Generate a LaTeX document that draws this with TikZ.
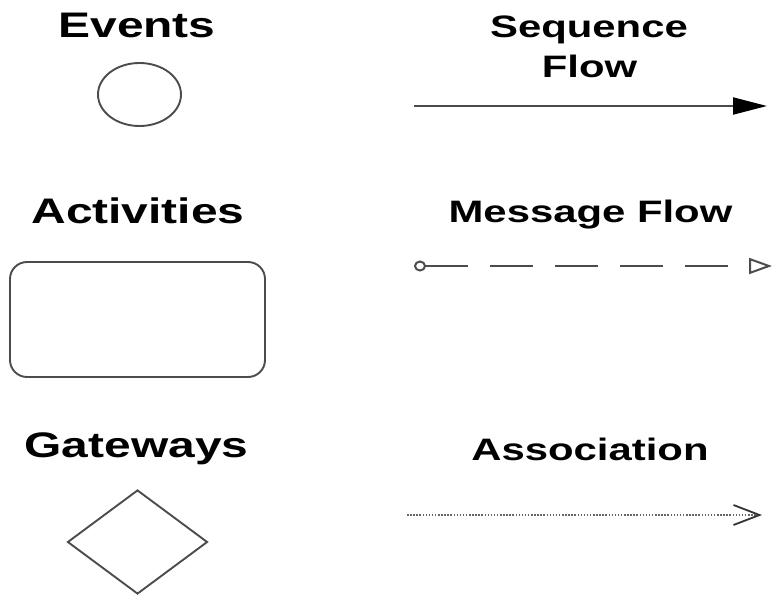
\documentclass[tikz,border=0pt]{standalone}
\usepackage{fontspec}
\setmainfont{Liberation Sans}
\usetikzlibrary{arrows.meta,shapes.geometric}
\begin{document}
\begin{tikzpicture}[x=1pt,y=-1pt,
  lbl/.style={font=\fontsize{35.5}{40}\selectfont\bfseries, anchor=base, inner sep=0, xscale=1.35},
  rlbl/.style={font=\fontsize{31}{40}\selectfont\bfseries, anchor=base, inner sep=0, xscale=1.35},
  shp/.style={draw=black!70, line width=1.9pt, inner sep=0},
  conn/.style={draw=black!70, line width=2pt}]
\useasboundingbox (0,0) rectangle (774,597);
% left column
\node[lbl] (tev) at (137,37) {Events};
\node[shp, ellipse, minimum width=83pt, minimum height=63pt] (ev) at (139.5,94.5) {};
\node[lbl] (tact) at (138,223) {Activities};
\node[shp, rectangle, rounded corners=17pt, minimum width=255pt, minimum height=115pt] (act) at (137.5,319.5) {};
\node[lbl] (tgw) at (136.5,457) {Gateways};
\node[shp, diamond, aspect=1.346, minimum width=140pt, minimum height=104pt] (gw) at (137.5,542) {};
% right column
\node[rlbl] (tsf) at (589,37) {Sequence};
\node[rlbl] (tsf2) at (589.5,77) {Flow};
\coordinate (sf1) at (414,106);
\coordinate (sf2) at (767,106);
\draw[conn, -{Triangle[length=34pt,width=17pt,fill=black,color=black]}] (sf1) -- (sf2);
\node[rlbl] (tmf) at (590.5,222) {Message Flow};
\coordinate (mf1) at (414,266);
\coordinate (mf2) at (772,266);
\draw[conn, line width=2pt, dash pattern=on 43pt off 22pt,
  {Circle[open,length=12pt,width=11pt,line width=2pt]}-{Triangle[open,length=23pt,width=16pt,line width=2pt]}] (mf1) -- (mf2);
\node[rlbl] (tas) at (590,460) {Association};
\coordinate (as1) at (407,515);
\coordinate (as2) at (762,515);
\draw[draw=black!60, line width=1.4pt, dash pattern=on 1.5pt off 1.6pt,
  -{Straight Barb[length=26pt,width=20pt,line width=1.8pt,color=black!80]}] (as1) -- (as2);
\end{tikzpicture}
\end{document}
